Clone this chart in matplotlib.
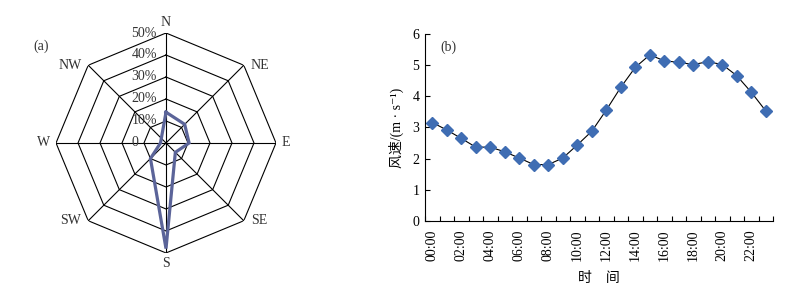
import numpy as np
import matplotlib
matplotlib.use("Agg")
import matplotlib.pyplot as plt

plt.rcParams['font.family'] = ['Liberation Serif', 'Noto Sans CJK SC', 'DejaVu Serif']
plt.rcParams['font.size'] = 10

# (a) 风向频率
directions = ['N', 'NE', 'E', 'SE', 'S', 'SW', 'W', 'NW']
freq = [14, 12, 10.5, 6, 48, 10, 2.5, 3]
rings = [10, 20, 30, 40, 50]
ring_labels = ['0', '10%', '20%', '30%', '40%', '50%']

# (b) 日变化风速
hours = ['%02d:00' % h for h in range(24)]
speed = [3.16, 2.92, 2.65, 2.37, 2.37, 2.22, 2.02, 1.81, 1.81, 2.02, 2.44, 2.88,
         3.56, 4.29, 4.93, 5.33, 5.14, 5.09, 5.02, 5.11, 5.02, 4.66, 4.13, 3.53]

fig = plt.figure(figsize=(7.89, 2.94), dpi=100)

# ---------- 风玫瑰 ----------
ax1 = fig.add_axes([0.0710, 0.1395, 0.2788, 0.7483], projection='polar')
ax1.set_theta_zero_location('N')
ax1.set_theta_direction(-1)
ax1.set_ylim(0, 50)
ax1.grid(False)
ax1.spines['polar'].set_visible(False)
ax1.set_xticks([])
ax1.set_yticks([])
ax1.patch.set_visible(False)

ang = np.deg2rad(np.arange(len(directions)) * 45.0)
ang_c = np.append(ang, ang[0])
for r in rings:
    ax1.plot(ang_c, [r] * len(ang_c), color='black', lw=0.8)
for a in ang:
    ax1.plot([a, a], [0, rings[-1]], color='black', lw=0.8)

ax1.plot(ang_c, freq + freq[:1], color='#5B6499', lw=2.3, solid_joinstyle='miter')

# 刻度标签
for i, lbl in enumerate(ring_labels):
    ax1.annotate(lbl, xy=(0, i * 10), xytext=(-25, 0), textcoords='offset points',
                 ha='left', va='center', fontsize=10, color='#333333')

# 方向标签
offs = {'N': (0, 3, 'center', 'bottom'), 'NE': (5, 0, 'left', 'center'),
        'E': (4, 0, 'left', 'center'), 'SE': (5, 0, 'left', 'center'),
        'S': (0, -3, 'center', 'top'), 'SW': (-5, 0, 'right', 'center'),
        'W': (-4, 0, 'right', 'center'), 'NW': (-5, 0, 'right', 'center')}
for a, d in zip(ang, directions):
    dx, dy, ha, va = offs[d]
    ax1.annotate(d, xy=(a, rings[-1]), xytext=(dx, dy), textcoords='offset points',
                 ha=ha, va=va, fontsize=10, color='#333333')

fig.text(33 / 789, 1 - 46 / 294, '(a)', ha='left', va='center', fontsize=10, color='#333333')

# ---------- 风速日变化 ----------
ax2 = fig.add_axes([0.5387, 0.2483, 0.4411, 0.6361])
x = np.arange(len(hours))
ax2.plot(x, speed, color='black', lw=0.8, marker='D', markersize=6,
         markerfacecolor='#3F6DB3', markeredgecolor='#3F6DB3')
ax2.set_xlim(-0.5, len(hours) - 0.5)
ax2.set_ylim(0, 6)
ax2.set_yticks(range(7))
ax2.set_xticks(np.arange(-0.5, len(hours)))
ax2.set_xticklabels([])
ax2.set_xticks(x[::2], minor=True)
ax2.set_xticklabels(hours[::2], minor=True, rotation=90)
ax2.tick_params(axis='x', which='major', direction='in', length=3.5, width=0.8)
ax2.tick_params(axis='x', which='minor', length=0, pad=6, labelsize=10)
ax2.tick_params(axis='y', direction='in', length=3.5, width=0.8, labelsize=10, pad=4)
ax2.spines['top'].set_visible(False)
ax2.spines['right'].set_visible(False)
ax2.spines['left'].set_linewidth(0.8)
ax2.spines['bottom'].set_linewidth(0.8)
ax2.set_ylabel('风速/(m · s⁻¹)', fontsize=10, labelpad=6)
ax2.set_xlabel('时    间', fontsize=10, labelpad=8)
ax2.text(0.045, 0.93, '(b)', transform=ax2.transAxes, ha='left', va='center',
         fontsize=10, color='#333333')

fig.savefig('out.png', dpi=100)
